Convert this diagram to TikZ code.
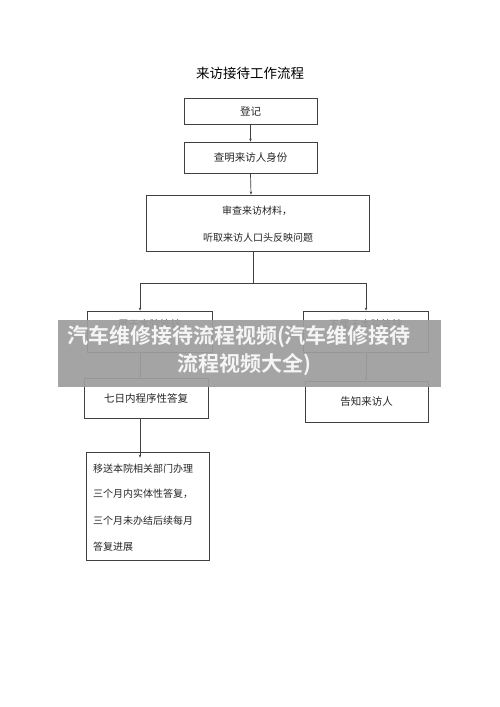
\documentclass[tikz,border=0pt]{standalone}
\usepackage{fontspec}
\newfontfamily\cjk{Noto Sans CJK SC}
\newfontfamily\cjkb{Noto Sans CJK SC Bold}
\usetikzlibrary{arrows.meta}
\definecolor{boxline}{HTML}{404040}
\definecolor{bannergray}{HTML}{9E9E9E}
\tikzset{
  box/.style={draw=boxline, line width=0.8pt, inner sep=0pt, font=\cjk\fontsize{10.5}{12}\selectfont, text=black!85},
  boxtext/.style={font=\cjk\fontsize{10.5}{12}\selectfont, text=black!85, inner sep=0pt},
  conn/.style={draw=boxline, line width=0.7pt},
  arr/.style={conn, -{Stealth[length=3pt,width=2.5pt]}},
  bantext/.style={font=\cjkb\fontsize{21}{24}\selectfont, text=white!96!black},
}
\begin{document}
\begin{tikzpicture}[x=1pt,y=-1pt]
\useasboundingbox (0,0) rectangle (500,707);
\fill[white] (0,0) rectangle (500,707);
\node[font=\cjk\fontsize{13.5}{15}\selectfont, text=black] (title) at (250,73) {来访接待工作流程};
\node[box, minimum width=133pt, minimum height=26pt] (reg) at (250.5,111) {登记};
\node[box, minimum width=133pt, minimum height=31pt] (id) at (250.5,157.5) {查明来访人身份};
\node[box, minimum width=223pt, minimum height=56pt] (rev) at (257.5,223) {};
\node[boxtext, font=\cjk\fontsize{10}{12}\selectfont] (rev1) at (257,211) {审查来访材料，};
\node[boxtext, font=\cjk\fontsize{10}{12}\selectfont] (rev2) at (258,237.5) {听取来访人口头反映问题};
\node[box, minimum width=125pt, minimum height=41pt] (yes) at (149.5,331.5) {};
\node[boxtext] (yest) at (149.5,324.5) {属于本院管辖};
\node[box, minimum width=125pt, minimum height=41pt] (no) at (365.5,331.5) {};
\node[boxtext] (not) at (365.5,324.5) {不属于本院管辖};
\node[box, minimum width=124pt, minimum height=40pt] (seven) at (146,398) {七日内程序性答复};
\node[box, minimum width=123pt, minimum height=41pt] (tell) at (366.5,401.5) {告知来访人};
\node[box, minimum width=123pt, minimum height=108pt] (trans) at (147.5,506) {};
\begin{scope}[every node/.style={anchor=west, font=\cjk\fontsize{10}{12}\selectfont, text=black!85, inner sep=0pt}]
\node (t1) at (93,469) {移送本院相关部门办理};
\node (t2) at (93,494) {三个月内实体性答复，};
\node (t3) at (93,520.5) {三个月未办结后续每月};
\node (t4) at (93,547) {答复进展};
\end{scope}
\coordinate (split) at (253,283);
\coordinate (sl) at (140,283);
\coordinate (sr) at (366,283);
\draw[arr] (reg.south) -- (id.north);
\draw[arr] (id.south) -- ([xshift=-6.5pt]rev.north);
\draw[conn] ([xshift=-4.5pt]rev.south) -- (split);
\draw[conn] (sl) -- (sr);
\draw[arr] (sl) -- (sl |- yes.north);
\draw[arr] (sr) -- (sr |- no.north);
\draw[arr] (sl |- yes.south) -- (sl |- seven.north);
\draw[arr] (sr |- no.south) -- (sr |- tell.north);
\draw[arr] (sl |- seven.south) -- ([yshift=-6pt]sl |- trans.north);
% watermark banner
\fill[bannergray, fill opacity=0.93] (58,320) rectangle (441,387);
\node[bantext] (ban1) at (239,337) {汽车维修接待流程视频(汽车维修接待};
\node[bantext] (ban2) at (244,365) {流程视频大全)};
\end{tikzpicture}
\end{document}
